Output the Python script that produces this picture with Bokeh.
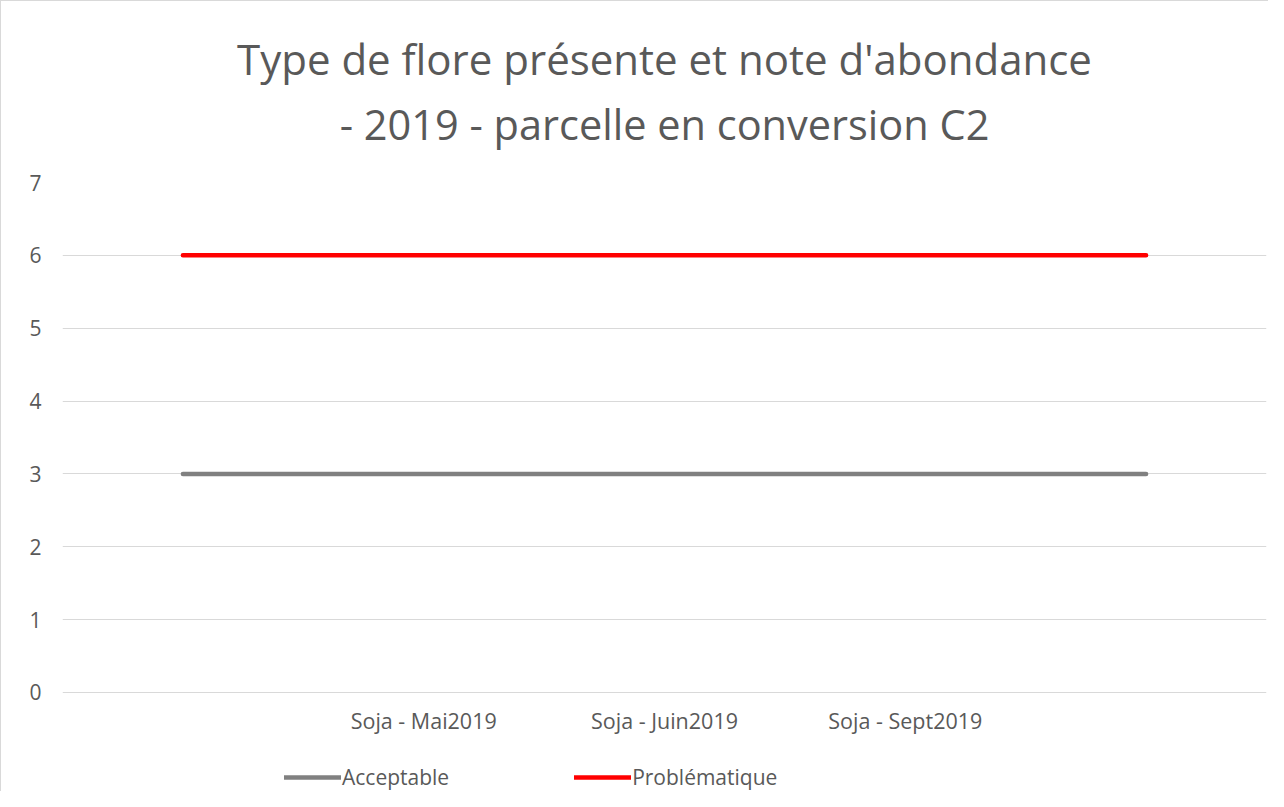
from bokeh.plotting import figure
from bokeh.models import FactorRange, Range1d, Title, Legend, LegendItem, FixedTicker
from bokeh.embed import file_html
from bokeh.resources import INLINE

# ---- data ----
categories = [" ", "Soja - Mai2019", "Soja - Juin2019", "Soja - Sept2019", "  "]
acceptable = [3, 3, 3, 3, 3]
problematique = [6, 6, 6, 6, 6]
y_ticks = [0, 1, 2, 3, 4, 5, 6, 7]
title_line1 = "Type de flore présente et note d'abondance"
title_line2 = "- 2019 - parcelle en conversion C2"

FONT = "Open Sans"
TXT = "#595959"

# value axis 0..7; the frame extends below 0 to leave room for the category labels and legend
Y_MIN_VIEW = -1.373
Y_MAX = 7

p = figure(
    width=1268, height=791,
    x_range=FactorRange(factors=categories, range_padding=0),
    y_range=Range1d(Y_MIN_VIEW, Y_MAX),
    output_backend="svg", toolbar_location=None,
    min_border_left=61, min_border_right=3, min_border_top=181, min_border_bottom=0,
    title=None,
    styles={"border-left": "1px solid #d9d9d9", "border-top": "1px solid #d9d9d9"},
)
p.outline_line_color = None
p.background_fill_color = "white"
p.border_fill_color = "white"

t2 = Title(text=title_line2, align="center", text_font=FONT, text_font_size="41.5px",
           text_color=TXT, text_font_style="normal", standoff=62)
t1 = Title(text=title_line1, align="center", text_font=FONT, text_font_size="42px",
           text_color=TXT, text_font_style="normal", standoff=-49)
p.add_layout(t2, "above")
p.add_layout(t1, "above")

r1 = p.line(categories, acceptable, line_color="#808080", line_width=4.5, line_cap="round")
r2 = p.line(categories, problematique, line_color="#ff0000", line_width=4.5, line_cap="round")

# axes
p.yaxis.ticker = FixedTicker(ticks=y_ticks)
p.yaxis.axis_line_color = None
p.yaxis.major_tick_line_color = None
p.yaxis.minor_tick_line_color = None
p.yaxis.major_label_text_font = FONT
p.yaxis.major_label_text_font_size = "21px"
p.yaxis.major_label_text_color = TXT
p.yaxis.major_label_standoff = 15

p.xaxis.fixed_location = 0
p.xaxis.axis_line_color = None
p.xaxis.major_tick_line_color = None
p.xaxis.minor_tick_line_color = None
p.xaxis.major_label_text_font = FONT
p.xaxis.major_label_text_font_size = "21.5px"
p.xaxis.major_label_text_color = TXT
p.xaxis.major_label_standoff = 8

p.xgrid.grid_line_color = None
p.ygrid.grid_line_color = "#d9d9d9"
p.ygrid.grid_line_width = 1

legend = Legend(
    items=[LegendItem(label="Acceptable", renderers=[r1]),
           LegendItem(label="Problématique", renderers=[r2])],
    orientation="horizontal",
    location=(222, 1),
    glyph_width=57, glyph_height=20,
    label_standoff=1, spacing=125, padding=0, margin=0,
    label_text_font=FONT, label_text_font_size="21px", label_text_color=TXT,
    border_line_color=None, background_fill_alpha=0,
)
p.add_layout(legend, "center")

open("out.html", "w").write(file_html(p, INLINE))
